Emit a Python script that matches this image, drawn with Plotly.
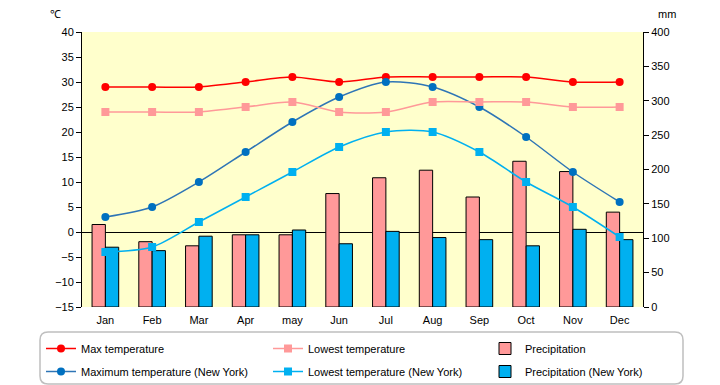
import plotly.graph_objects as go

months = ["Jan", "Feb", "Mar", "Apr", "may", "Jun", "Jul", "Aug", "Sep", "Oct", "Nov", "Dec"]
max_temp = [29, 29, 29, 30, 31, 30, 31, 31, 31, 31, 30, 30]
low_temp = [24, 24, 24, 25, 26, 24, 24, 26, 26, 26, 25, 25]
precip = [120, 95, 89, 105, 105, 165, 188, 199, 160, 212, 197, 138]
ny_max = [3, 5, 10, 16, 22, 27, 30, 29, 25, 19, 12, 6]
ny_low = [-4, -3, 2, 7, 12, 17, 20, 20, 16, 10, 5, -1]
ny_precip = [87, 82, 103, 105, 112, 92, 110, 101, 98, 89, 113, 98]

temp_ticks = list(range(-15, 45, 5))
mm_ticks = list(range(0, 450, 50))

FONT = "Liberation Sans, Arial, sans-serif"

fig = go.Figure()

fig.add_trace(go.Bar(x=months, y=precip, name="Precipitation", yaxis="y",
                     marker=dict(color="#FF9999", line=dict(color="black", width=1)),
                     legend="legend3", legendgroup="p1", legendrank=1))
fig.add_trace(go.Bar(x=months, y=ny_precip, name="Precipitation (New York)", yaxis="y",
                     marker=dict(color="#00B0F0", line=dict(color="black", width=1)),
                     legend="legend3", legendgroup="p2", legendrank=2))

fig.add_trace(go.Scatter(x=months, y=max_temp, name="Max temperature", yaxis="y2",
                         mode="lines+markers", line=dict(color="#FF0000", width=1.5, shape="spline", smoothing=0.8),
                         marker=dict(symbol="circle", size=8, color="#FF0000"),
                         legend="legend", legendgroup="a1", legendrank=1))
fig.add_trace(go.Scatter(x=months, y=ny_max, name="Maximum temperature (New York)", yaxis="y2",
                         mode="lines+markers", line=dict(color="#2E75B6", width=1.5, shape="spline", smoothing=0.8),
                         marker=dict(symbol="circle", size=8, color="#0070C0"),
                         legend="legend", legendgroup="a2", legendrank=2))
fig.add_trace(go.Scatter(x=months, y=low_temp, name="Lowest temperature", yaxis="y2",
                         mode="lines+markers", line=dict(color="#FF9999", width=1.5, shape="spline", smoothing=0.8),
                         marker=dict(symbol="square", size=8, color="#FF9999"),
                         legend="legend2", legendgroup="b1", legendrank=1))
fig.add_trace(go.Scatter(x=months, y=ny_low, name="Lowest temperature (New York)", yaxis="y2",
                         mode="lines+markers", line=dict(color="#00B0F0", width=1.5, shape="spline", smoothing=0.8),
                         marker=dict(symbol="square", size=8, color="#00B0F0"),
                         legend="legend2", legendgroup="b2", legendrank=2))

L, R, T, B = 82, 77, 32, 78
W, H = 720, 385
pw, ph = W - L - R, H - T - B

def px(xp):
    return (xp - L) / pw

def py(yp):
    return (H - B - yp) / ph

x0, x1, y0, y1 = px(40), px(683), py(384), py(332)
rx, ry = 8 / pw, 8 / ph
path = (f"M {x0+rx},{y1} L {x1-rx},{y1} Q {x1},{y1} {x1},{y1-ry} L {x1},{y0+ry} "
        f"Q {x1},{y0} {x1-rx},{y0} L {x0+rx},{y0} Q {x0},{y0} {x0},{y0+ry} "
        f"L {x0},{y1-ry} Q {x0},{y1} {x0+rx},{y1} Z")

legend_common = dict(orientation="v", yanchor="top", xanchor="left",
                     bgcolor="rgba(0,0,0,0)", font=dict(family=FONT, size=11, color="black"),
                     tracegroupgap=4, itemwidth=30, traceorder="grouped")

fig.update_layout(
    width=W, height=H,
    margin=dict(l=L, r=R, t=T, b=B, pad=0, autoexpand=False),
    paper_bgcolor="white",
    plot_bgcolor="#FFFFCC",
    barmode="group", bargap=0.43, bargroupgap=0,
    font=dict(family=FONT, size=11, color="black"),
    xaxis=dict(type="category", showline=False, ticks="", showgrid=False,
               tickfont=dict(size=11), range=[-0.5, 11.5], ticklabelstandoff=5),
    yaxis=dict(side="right", range=[0, 400], tickvals=mm_ticks, showgrid=False, zeroline=False,
               showline=True, linecolor="black", linewidth=1, ticks="outside", ticklen=5,
               tickcolor="black", tickfont=dict(size=11)),
    yaxis2=dict(side="left", overlaying="y", range=[-15, 40], tickvals=temp_ticks, showgrid=False,
                zeroline=True, zerolinecolor="black", zerolinewidth=1,
                showline=True, linecolor="black", linewidth=1, ticks="outside", ticklen=5,
                tickcolor="black", tickfont=dict(size=11)),
    legend=dict(x=px(41), y=py(334), **legend_common),
    legend2=dict(x=px(268), y=py(334), **legend_common),
    legend3=dict(x=px(485), y=py(334), **legend_common),
    shapes=[dict(type="path", path=path, xref="paper", yref="paper",
                 line=dict(color="#BFBFBF", width=1.5), fillcolor="rgba(0,0,0,0)", layer="below")],
    annotations=[
        dict(text="℃", x=px(55), y=py(14), xref="paper", yref="paper", showarrow=False,
             font=dict(size=11), xanchor="center", yanchor="middle"),
        dict(text="mm", x=px(667), y=py(14), xref="paper", yref="paper", showarrow=False,
             font=dict(size=11), xanchor="center", yanchor="middle"),
    ],
)

fig.write_html("out.html", config={"displayModeBar": False},
               post_script="document.body.style.margin='0';document.body.style.padding='0';")
